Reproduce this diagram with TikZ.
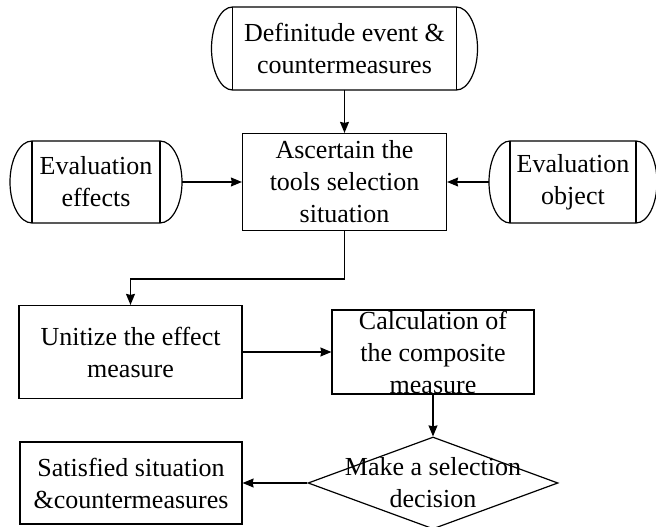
\documentclass[tikz,border=0pt]{standalone}
\usepackage{fontspec}
\setmainfont{Liberation Serif}
\usetikzlibrary{arrows.meta,shapes.geometric,calc}

\begin{document}
\begin{tikzpicture}[x=1pt, y=1pt, font=\fontsize{26}{32}\selectfont]
  \tikzstyle{box}=[draw, line width=1.2pt, rectangle, align=center, inner sep=0pt]
  \tikzstyle{capsule}=[rectangle, align=center, inner sep=0pt, outer sep=0pt, minimum height=82pt]
  \tikzstyle{choice}=[draw, line width=1.2pt, diamond, inner sep=0pt, minimum width=250pt, minimum height=92pt]
  \tikzstyle{plain_txt}=[align=center, inner sep=0pt]
  \tikzstyle{dir_edge} = [draw, -{Stealth[length=11pt,width=9pt,inset=1pt]}, line width=1.2pt]

  % page frame
  \useasboundingbox (0,0) rectangle (656,527);

  % constants
  \def \MidX {344.5}
  \def \RowA {478.5}
  \def \RowB {345}
  \def \RowC {175}
  \def \RowD {44}

    \coordinate(D) at (\MidX, \RowA);
    \coordinate(A) at (\MidX, \RowB);
    \coordinate(E) at (96, \RowB);
    \coordinate(O) at (573, \RowB);
    \coordinate(U) at (130.5, \RowC);
    \coordinate(C) at (433, \RowC);
    \coordinate(M) at (433, \RowD);
    \coordinate(S) at (131, \RowD);

    % Draw the blocks
    \node[capsule, minimum width=266pt, minimum height=83pt] (defin) at (D) {Definitude event \&\\countermeasures};
    \node[capsule, minimum width=172pt] (effects) at (E) {Evaluation\\effects};
    \node[capsule, minimum width=168pt] (object) at (O) {Evaluation\\object};
    \node[box, minimum width=204pt, minimum height=97pt] (ascert) at (A) {Ascertain the\\tools selection\\situation};
    \node[box, minimum width=223pt, minimum height=93pt] (unitize) at (U) {Unitize the effect\\measure};
    \node[box, minimum width=202pt, minimum height=84pt] (calc) at (C) {};
    \node[plain_txt] (calc_txt) at (calc) {Calculation of\\the composite\\measure};
    \node[choice] (decide) at (M) {};
    \node[plain_txt] (decide_txt) at (decide) {Make a selection\\decision};
    \node[box, minimum width=222pt, minimum height=82pt] (satisf) at (S) {Satisfied situation\\\&countermeasures};

    % rounded ends of the capsules
    \foreach \n/\r/\h in {defin/21/41.5, effects/22/41, object/21/41}
    {
      \draw[line width=1.2pt] ([xshift=\r pt]\n.north west) -- ([xshift=-\r pt]\n.north east)
          arc[start angle=90, end angle=-90, x radius=\r pt, y radius=\h pt]
          -- ([xshift=\r pt]\n.south west)
          arc[start angle=270, end angle=90, x radius=\r pt, y radius=\h pt] -- cycle;
      \draw[line width=1.2pt] ([xshift=\r pt]\n.north west) -- ([xshift=\r pt]\n.south west);
      \draw[line width=1.2pt] ([xshift=-\r pt]\n.north east) -- ([xshift=-\r pt]\n.south east);
    }

    % Connect blocks with arrows
    \foreach \source/ \dest in
      {
        defin/ascert,
        effects/ascert,
        object/ascert,
        unitize/calc,
        calc/decide,
        decide/satisf%
      }
      \path[dir_edge] (\source) -- (\dest);

    \path[dir_edge] (ascert.south) -- ++(0,-48) -| (unitize.north);

\end{tikzpicture}
\end{document}
